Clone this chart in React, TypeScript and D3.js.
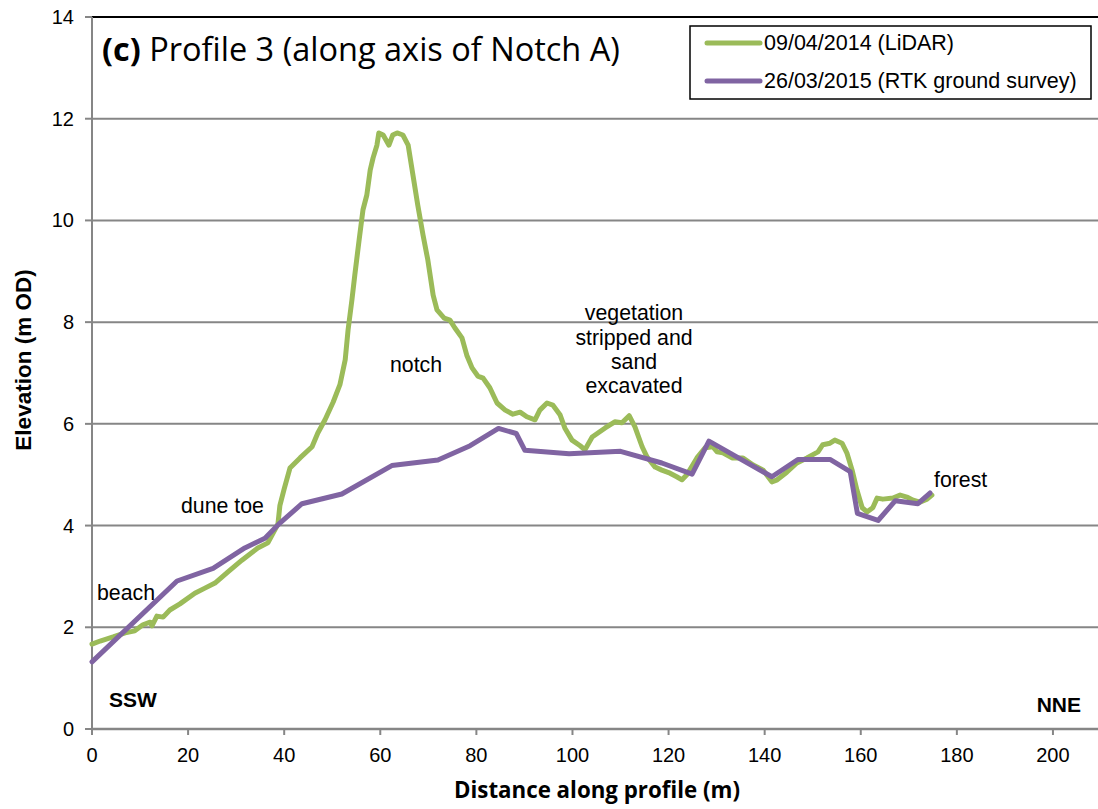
import * as d3 from "d3";

// LiDAR profile, 09/04/2014: [distance (m), elevation (m OD)]
const lidar: [number, number][] = [
  [0, 1.67], [1.7, 1.73], [4.4, 1.81], [6.9, 1.89], [8.9, 1.93], [10.6, 2.05],
  [12.1, 2.1], [12.5, 2.03], [13.5, 2.22], [14.8, 2.2], [16.2, 2.34], [18.3, 2.46],
  [21.4, 2.67], [23.5, 2.77], [25.6, 2.87], [28.3, 3.09], [31.2, 3.32], [34.5, 3.56],
  [36.6, 3.66], [37.5, 3.82], [38.7, 4.03], [39.1, 4.39], [40.0, 4.72], [41.2, 5.13],
  [43.3, 5.33], [45.8, 5.55], [47.0, 5.82], [48.5, 6.08], [50.2, 6.43], [51.6, 6.77],
  [52.7, 7.26], [53.3, 7.85], [54.1, 8.44], [54.7, 8.93], [55.6, 9.62], [56.4, 10.21],
  [57.2, 10.5], [57.9, 10.99], [58.5, 11.23], [59.3, 11.48], [59.7, 11.72], [60.6, 11.68],
  [61.8, 11.48], [62.6, 11.68], [63.5, 11.72], [64.7, 11.68], [65.8, 11.48], [66.8, 10.89],
  [67.8, 10.3], [68.9, 9.71], [69.9, 9.22], [71.0, 8.53], [71.8, 8.24], [73.3, 8.08],
  [74.5, 8.04], [75.5, 7.89], [77.0, 7.69], [78.0, 7.35], [79.1, 7.1], [80.3, 6.94],
  [81.4, 6.9], [82.8, 6.71], [84.3, 6.41], [86.0, 6.27], [87.6, 6.19], [89.1, 6.23],
  [90.5, 6.14], [92.2, 6.08], [93.2, 6.27], [94.7, 6.41], [95.9, 6.37], [97.4, 6.18],
  [98.4, 5.92], [99.9, 5.68], [101.6, 5.57], [102.6, 5.49], [104.1, 5.74], [105.3, 5.82],
  [106.8, 5.92], [108.8, 6.04], [110.3, 6.02], [111.8, 6.16], [113.0, 5.94], [114.5, 5.55],
  [115.5, 5.35], [117.2, 5.15], [118.6, 5.09], [120.3, 5.03], [121.7, 4.96], [122.8, 4.9],
  [123.8, 5.0], [125.9, 5.33], [127.6, 5.53], [129.2, 5.55], [130.1, 5.45], [131.3, 5.43],
  [133.2, 5.33], [135.5, 5.33], [137.6, 5.19], [139.7, 5.09], [141.5, 4.86], [142.6, 4.9],
  [144.6, 5.05], [146.7, 5.23], [148.8, 5.33], [151.1, 5.45], [152.1, 5.59], [153.6, 5.62],
  [154.6, 5.68], [156.1, 5.62], [157.1, 5.43], [158.2, 5.09], [159.2, 4.7], [160.3, 4.35],
  [161.3, 4.27], [162.5, 4.35], [163.4, 4.54], [164.6, 4.52], [166.7, 4.54], [168.2, 4.6],
  [169.6, 4.56], [170.9, 4.5], [172.3, 4.46], [173.8, 4.52], [174.8, 4.6],
];

// RTK ground survey, 26/03/2015
const rtk: [number, number][] = [
  [0, 1.32], [17.7, 2.91], [25.2, 3.16], [31.8, 3.56], [36, 3.75], [39.1, 4.05],
  [43.7, 4.43], [52, 4.62], [62.4, 5.18], [72, 5.29], [78.7, 5.57], [84.6, 5.91],
  [88.3, 5.81], [90.1, 5.48], [99.3, 5.41], [110, 5.46], [118.6, 5.23], [124.9, 5.01],
  [128.4, 5.66], [141.5, 4.96], [146.9, 5.3], [153.6, 5.3], [157.8, 5.06], [159.3, 4.24],
  [163.6, 4.1], [167.2, 4.49], [171.9, 4.43], [174.4, 4.64],
];

const xTicks = [0, 20, 40, 60, 80, 100, 120, 140, 160, 180, 200];
const yTicks = [0, 2, 4, 6, 8, 10, 12, 14];
const seriesNames = ["09/04/2014 (LiDAR)", "26/03/2015 (RTK ground survey)"];
const colors = ["#9BBB59", "#8064A2"];

const W = 1098;
const H = 809;

export default function App() {
  const x = d3.scaleLinear().domain([0, 210]).range([92, 1101]);
  const y = d3.scaleLinear().domain([0, 14]).range([729, 17]);
  const line = d3
    .line<[number, number]>()
    .x((d) => x(d[0]))
    .y((d) => y(d[1]));

  const arial = "Arial, 'Liberation Sans', sans-serif";
  const calibri = "'Open Sans', 'Noto Sans', sans-serif";

  return (
    <svg
      width={W}
      height={H}
      style={{ position: "absolute", left: 0, top: 0, background: "#fff" }}
      fontFamily={arial}
    >
      <rect width={W} height={H} fill="#fff" />
      {/* grid */}
      {yTicks.map((t) => (
        <g key={"gy" + t}>
          {t > 0 && t < 14 && (
            <line x1={x(0)} x2={W} y1={y(t)} y2={y(t)} stroke="#868686" strokeWidth={2} />
          )}
          <line x1={x(0) - 7} x2={x(0)} y1={y(t)} y2={y(t)} stroke="#868686" strokeWidth={2} />
          <text x={74} y={y(t) + 7} textAnchor="end" fontSize={20}>
            {t}
          </text>
        </g>
      ))}
      <line x1={x(0)} x2={W} y1={y(14)} y2={y(14)} stroke="#000" strokeWidth={2} />
      <line x1={x(0)} x2={x(0)} y1={y(14)} y2={y(0) + 6} stroke="#868686" strokeWidth={2} />
      <line x1={x(0)} x2={W} y1={y(0)} y2={y(0)} stroke="#868686" strokeWidth={2.5} />
      {xTicks.map((t) => (
        <g key={"gx" + t}>
          <line x1={x(t)} x2={x(t)} y1={y(0)} y2={y(0) + 6} stroke="#868686" strokeWidth={2} />
          <text x={x(t)} y={762} textAnchor="middle" fontSize={20}>
            {t}
          </text>
        </g>
      ))}

      {/* series */}
      <path d={line(lidar) || ""} fill="none" stroke={colors[0]} strokeWidth={5} strokeLinejoin="round" strokeLinecap="round" />
      <path d={line(rtk) || ""} fill="none" stroke={colors[1]} strokeWidth={5} strokeLinejoin="round" strokeLinecap="round" />

      {/* title */}
      <text x={102} y={61} fontSize={32.5} fontFamily={calibri}>
        <tspan fontWeight="bold">(c)</tspan> Profile 3 (along axis of Notch A)
      </text>

      {/* legend */}
      <rect x={690} y={26} width={401} height={73} fill="#fff" stroke="#000" strokeWidth={1.5} />
      {seriesNames.map((n, i) => (
        <g key={n}>
          <line x1={707} x2={760} y1={43 + i * 38} y2={43 + i * 38} stroke={colors[i]} strokeWidth={5} strokeLinecap="round" />
          <text x={764} y={50 + i * 38} fontSize={21.5}>
            {n}
          </text>
        </g>
      ))}

      {/* annotations */}
      <g fontSize={21.3}>
        <text x={97} y={600}>beach</text>
        <text x={181} y={513}>dune toe</text>
        <text x={390} y={372}>notch</text>
        <text x={934} y={487}>forest</text>
        <text textAnchor="middle">
          <tspan x={634} y={320}>vegetation</tspan>
          <tspan x={634} y={345}>stripped and</tspan>
          <tspan x={634} y={369}>sand</tspan>
          <tspan x={634} y={393}>excavated</tspan>
        </text>
        <text x={109} y={707} fontWeight="bold" fontSize={21}>SSW</text>
        <text x={1081} y={712} fontWeight="bold" fontSize={21} textAnchor="end">NNE</text>
      </g>

      {/* axis titles */}
      <text x={597} y={798} textAnchor="middle" fontSize={22.3} fontWeight="bold" fontFamily={calibri}>
        Distance along profile (m)
      </text>
      <text
        transform={`translate(31, 360) rotate(-90)`}
        textAnchor="middle"
        fontSize={22.5}
        fontWeight="bold"
      >
        Elevation (m OD)
      </text>
    </svg>
  );
}
